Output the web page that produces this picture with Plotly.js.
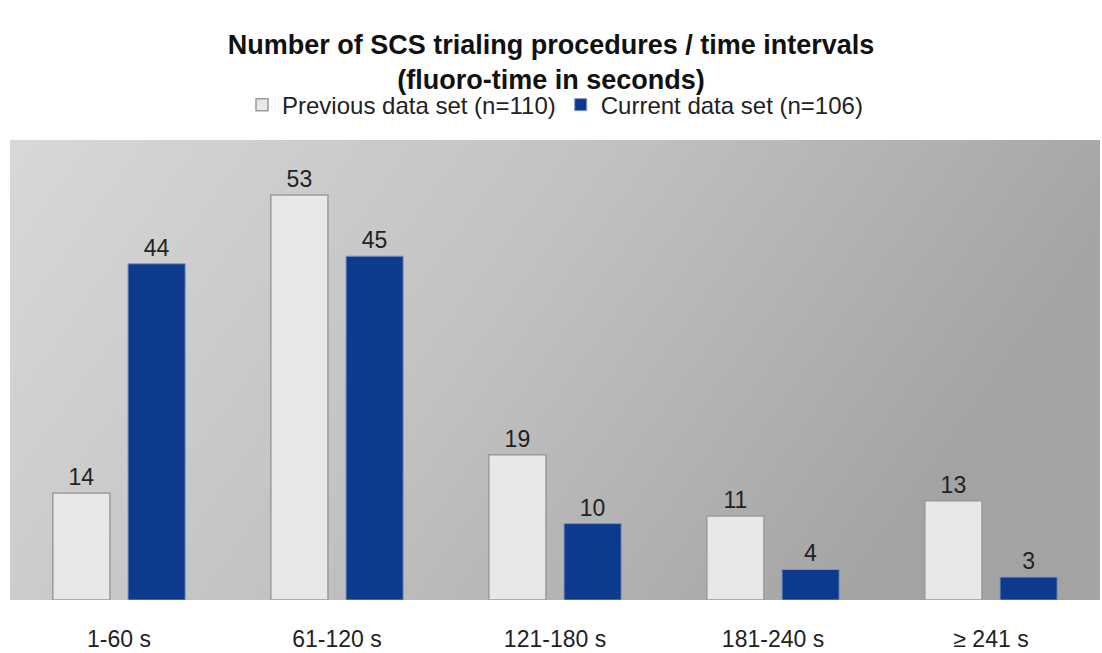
<!DOCTYPE html>
<html>
<head>
<meta charset="utf-8">
<script src="https://cdn.plot.ly/plotly-3.0.1.min.js"></script>
<style>html,body{margin:0;padding:0;background:#fff;}#chart{width:1102px;height:653px;}</style>
</head>
<body>
<div id="chart"></div>
<script>
const categories = ["1-60 s", "61-120 s", "121-180 s", "181-240 s", "≥ 241 s"];
const previousValues = [14, 53, 19, 11, 13];
const currentValues = [44, 45, 10, 4, 3];
const seriesNames = ["Previous data set (n=110)", "Current data set (n=106)"];

const bgSvg = '<svg xmlns="http://www.w3.org/2000/svg" width="1090" height="460" preserveAspectRatio="none">' +
  '<defs><linearGradient id="g" x1="0" y1="0" x2="1" y2="0.3">' +
  '<stop offset="0" stop-color="#d8d8d8"/><stop offset="0.5" stop-color="#c2c2c2"/><stop offset="1" stop-color="#a3a3a3"/>' +
  '</linearGradient></defs><rect width="1090" height="460" fill="url(#g)"/></svg>';
const bgUri = 'data:image/svg+xml;base64,' + btoa(bgSvg);

const FONT = "Liberation Sans, Arial, sans-serif";

const traces = [
  {
    type: "bar", name: seriesNames[0], x: categories, y: previousValues,
    text: previousValues.map(String), textposition: "outside", cliponaxis: false,
    textfont: {size: 23, color: "#222", family: FONT},
    marker: {color: "#e8e8e8", line: {color: "#9a9a9a", width: 1.5}}
  },
  {
    type: "bar", name: seriesNames[1], x: categories, y: currentValues,
    text: currentValues.map(String), textposition: "outside", cliponaxis: false,
    textfont: {size: 23, color: "#222", family: FONT},
    marker: {color: "#0d3a8c", line: {color: "#7f96c4", width: 1}}
  }
];

const layout = {
  width: 1102, height: 653,
  margin: {l: 10, r: 2, t: 140, b: 53},
  paper_bgcolor: "#ffffff",
  plot_bgcolor: "rgba(0,0,0,0)",
  font: {family: FONT, color: "#222"},
  title: {
    text: "<b>Number of SCS trialing procedures / time intervals<br>(fluoro-time in seconds)</b>",
    font: {size: 27, color: "#111", family: FONT},
    x: 0.5, xanchor: "center", y: 0.918, yanchor: "middle", yref: "container"
  },
  showlegend: true,
  legend: {
    orientation: "h", x: 0.5, xanchor: "center", y: 1.076, yanchor: "middle",
    font: {size: 24, color: "#222", family: FONT}, itemwidth: 30,
    bgcolor: "rgba(0,0,0,0)"
  },
  barmode: "group", bargap: 0.31, bargroupgap: 0.24,
  xaxis: {
    showgrid: false, zeroline: false, showline: false,
    ticks: "outside", ticklen: 18, tickcolor: "rgba(0,0,0,0)",
    tickfont: {size: 23, color: "#222", family: FONT}, automargin: false
  },
  yaxis: {
    range: [0, 60.2], visible: false, showgrid: false, zeroline: false
  },
  images: [{
    source: bgUri, xref: "paper", yref: "paper", x: 0, y: 1, sizex: 1, sizey: 1,
    sizing: "stretch", layer: "below", xanchor: "left", yanchor: "top"
  }]
};

Plotly.newPlot("chart", traces, layout, {displayModeBar: false, staticPlot: true});
</script>
</body>
</html>
